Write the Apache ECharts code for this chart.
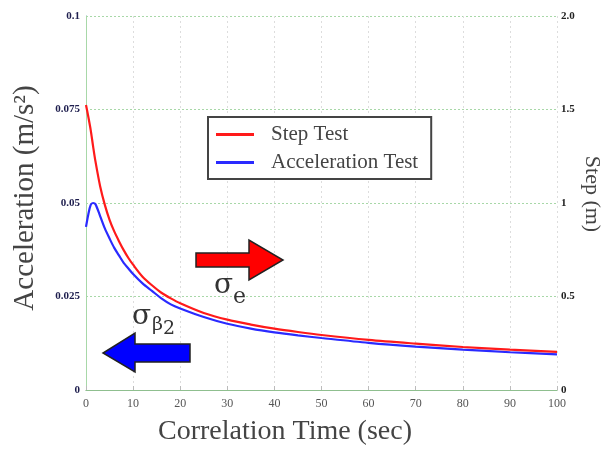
<!DOCTYPE html>
<html><head><meta charset="utf-8">
<script src="https://cdn.jsdelivr.net/npm/echarts@6/dist/echarts.min.js"></script>
<style>html,body{margin:0;padding:0;background:#fff}#c{width:610px;height:451px}</style>
</head><body><div id="c"></div>
<script>
// Data
var timeSec = [0, 0.5, 1, 1.5, 2, 3, 4, 5, 6, 7, 8, 9, 10, 12, 14, 16, 18, 20, 25, 30, 35, 40, 45, 50, 60, 70, 80, 90, 100];
var stepTest = [0.0762, 0.0730, 0.0695, 0.0652, 0.0612, 0.0545, 0.0495, 0.0455, 0.0424, 0.0398, 0.0374, 0.0353, 0.0335, 0.0303, 0.0280, 0.0260, 0.0245, 0.0232, 0.0206, 0.0188, 0.0175, 0.0164, 0.0155, 0.0147, 0.0134, 0.0124, 0.0115, 0.0108, 0.0102];
var accelTest = [0.0436, 0.0470, 0.0495, 0.0500, 0.0497, 0.0465, 0.0432, 0.0405, 0.0380, 0.0360, 0.0340, 0.0325, 0.0310, 0.0285, 0.0265, 0.0245, 0.0229, 0.0218, 0.0195, 0.0177, 0.0164, 0.0154, 0.0146, 0.0139, 0.0126, 0.0116, 0.0108, 0.0101, 0.0095];
var seriesNames = ['Step Test', 'Acceleration Test'];
var leftTicks = ['0', '0.025', '0.05', '0.075', '0.1'];
var rightTicks = ['0', '0.5', '1', '1.5', '2.0'];
var xTitle = 'Correlation Time (sec)';
var leftTitle = 'Acceleration (m/s²)';
var rightTitle = 'Step (m)';

function pairs(xs, ys){ return xs.map(function(x,i){ return [x, ys[i]]; }); }
var serif = '"Liberation Serif", "DejaVu Serif", serif';
var dserif = '"DejaVu Serif", serif';
var chart = echarts.init(document.getElementById('c'), null, {renderer:'canvas'});
chart.setOption({
  animation: false,
  backgroundColor: '#fff',
  grid: {left: 86, right: 53, top: 16, bottom: 61, containLabel: false, outerBoundsMode: 'none'},
  legend: {
    orient: 'vertical', left: 208, top: 117,
    data: seriesNames,
    icon: 'rect', itemWidth: 38, itemHeight: 3, itemGap: 7,
    padding: [7, 13, 6, 8],
    borderColor: '#444', borderWidth: 2, backgroundColor: '#fff',
    textStyle: {fontFamily: serif, fontSize: 21, color: '#444', padding: [0,0,0,12]}
  },
  xAxis: [{
    type: 'value', min: 0, max: 100, interval: 10, position: 'bottom',
    axisLine: {lineStyle: {color: '#b8c4b8', width: 1}},
    axisTick: {inside: true, length: 4, lineStyle: {color: '#bbb'}},
    axisLabel: {fontFamily: serif, fontSize: 12, color: '#555', margin: 8},
    splitLine: {show: true, lineStyle: {color: '#ddd', type: [2,3]}}
  }, {
    type: 'value', min: 0, max: 100, position: 'top',
    axisLine: {show: true, lineStyle: {color: '#8fbf8f', width: 1}},
    axisTick: {show: false}, axisLabel: {show: false}, splitLine: {show: false}
  }],
  yAxis: [{
    type: 'value', min: 0, max: 0.1, interval: 0.025, position: 'left',
    axisLine: {show: true, lineStyle: {color: '#a8b0ff', width: 1}},
    axisTick: {show: false},
    axisLabel: {fontFamily: serif, fontSize: 11, fontWeight: 'bold', color: '#1e1e4e', margin: 6,
      formatter: function(v){ return leftTicks[Math.round(v/0.025)]; }},
    splitLine: {show: true, lineStyle: {color: '#a8d8a8', type: [2,2]}}
  }, {
    type: 'value', min: 0, max: 2, interval: 0.5, position: 'right',
    axisLine: {show: true, lineStyle: {color: '#a8d8a8', width: 1}},
    axisTick: {show: false},
    axisLabel: {fontFamily: serif, fontSize: 11, fontWeight: 'bold', color: '#222', margin: 4,
      formatter: function(v){ return rightTicks[Math.round(v/0.5)]; }},
    splitLine: {show: false}
  }],
  series: [{
    name: seriesNames[0], type: 'line', data: pairs(timeSec, stepTest), smooth: 0.3,
    showSymbol: false, lineStyle: {color: '#ff1a1a', width: 2.2}, itemStyle: {color: '#ff1a1a'}, z: 3
  }, {
    name: seriesNames[1], type: 'line', data: pairs(timeSec, accelTest), smooth: 0.3,
    showSymbol: false, lineStyle: {color: '#2a2aff', width: 2.2}, itemStyle: {color: '#2a2aff'}, z: 2
  }],
  graphic: [
    {type: 'text', z: 100, x: 285, y: 432, style: {text: xTitle, font: '28px ' + serif, fill: '#444', align: 'center', verticalAlign: 'middle'}},
    {type: 'text', z: 100, x: 25, y: 198, rotation: Math.PI/2, style: {text: leftTitle, font: '29px ' + serif, fill: '#444', align: 'center', verticalAlign: 'middle'}},
    {type: 'text', z: 100, x: 592, y: 194, rotation: -Math.PI/2, style: {text: rightTitle, font: '22px ' + serif, fill: '#444', align: 'center', verticalAlign: 'middle'}},
    {type: 'polygon', z: 100, shape: {points: [[196,253],[249,253],[249,240],[283,260],[249,280],[249,267],[196,267]]},
     style: {fill: '#ff0000', stroke: '#222', lineWidth: 1.5}},
    {type: 'polygon', z: 100, shape: {points: [[190,344],[135,344],[135,333],[103,353],[135,372],[135,362],[190,362]]},
     style: {fill: '#0000ff', stroke: '#222', lineWidth: 1.5}},
    {type: 'text', z: 100, left: 214, top: 272, style: {
      text: '{s|σ}{b|e}', rich: {
        s: {fontFamily: dserif, fontSize: 28, fill: '#333'},
        b: {fontFamily: dserif, fontSize: 22, fill: '#333', padding: [22,0,0,0]}
      }}},
    {type: 'text', z: 100, left: 132, top: 303, style: {
      text: '{s|σ}{b|β}{c|2}', rich: {
        s: {fontFamily: dserif, fontSize: 28, fill: '#333'},
        b: {fontFamily: dserif, fontSize: 19, fill: '#333', padding: [16,0,0,1]},
        c: {fontFamily: dserif, fontSize: 19, fill: '#333', padding: [24,0,0,0]}
      }}}
  ]
});
</script></body></html>
